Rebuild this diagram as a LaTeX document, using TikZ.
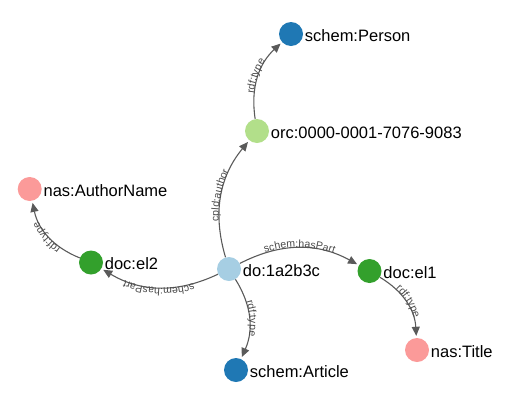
\documentclass[tikz,border=0pt]{standalone}
\usepackage{fontspec}
\setmainfont{Liberation Sans}
\usepackage{xcolor}
\usepackage{tikz}
\usetikzlibrary{arrows.meta, decorations.text}

\definecolor{lightblue}{HTML}{A6CEE3}
\definecolor{deepblue}{HTML}{1F78B4}
\definecolor{lightgreen}{HTML}{B2DF8A}
\definecolor{deepgreen}{HTML}{33A02C}
\definecolor{pinkred}{HTML}{FB9A99}
\definecolor{linkgray}{HTML}{5A5A5A}
\definecolor{taggray}{HTML}{4A4A4A}

\newcommand{\tagfont}{\fontsize{10.5}{12}\selectfont\color{taggray}}

\tikzstyle{res} = [circle, minimum size=24pt, inner sep=0pt, label distance=0pt]
\tikzstyle{reslabel} = [font=\fontsize{16.5}{18}\selectfont, inner sep=1.5pt, yshift=-1.5pt]
\tikzstyle{linkarc} = [draw=linkgray, line width=1.1pt, -{Triangle[length=9pt,width=8pt]}, shorten >=2pt, bend left=28]
\tikzset{predtag/.style={postaction={decorate, decoration={text along path, text align=center, raise=0.5pt, text={|\tagfont|#1}}}}}

\begin{document}
\begin{tikzpicture}[x=1pt, y=-1pt]
\useasboundingbox (0,0) rectangle (525,405);

\node (doc) [res, fill=lightblue, label={[reslabel]right:{do:1a2b3c}}] at (229,269) {};
\node (orc) [res, fill=lightgreen, label={[reslabel]right:{orc:0000-0001-7076-9083}}] at (257,131) {};
\node (person) [res, fill=deepblue, label={[reslabel]right:{schem:Person}}] at (291,34) {};
\node (elone) [res, fill=deepgreen, label={[reslabel]right:{doc:el1}}] at (369.5,271) {};
\node (title) [res, fill=pinkred, label={[reslabel]right:{nas:Title}}] at (417,350) {};
\node (article) [res, fill=deepblue, label={[reslabel]right:{schem:Article}}] at (236,370) {};
\node (eltwo) [res, fill=deepgreen, label={[reslabel]right:{doc:el2}}] at (91,262.5) {};
\node (author) [res, fill=pinkred, label={[reslabel]right:{nas:AuthorName}}] at (29.7,189) {};

\draw [linkarc, predtag=cpld:author] (doc) to (orc);
\draw [linkarc, predtag=rdf:type] (orc) to (person);
\draw [linkarc, predtag=schem:hasPart] (doc) to (elone);
\draw [linkarc, predtag=rdf:type] (elone) to (title);
\draw [linkarc, predtag=rdf:type] (doc) to (article);
\draw [linkarc, predtag=schem:hasPart] (doc) to (eltwo);
\draw [linkarc, predtag=rdf:type] (eltwo) to (author);
\end{tikzpicture}
\end{document}
